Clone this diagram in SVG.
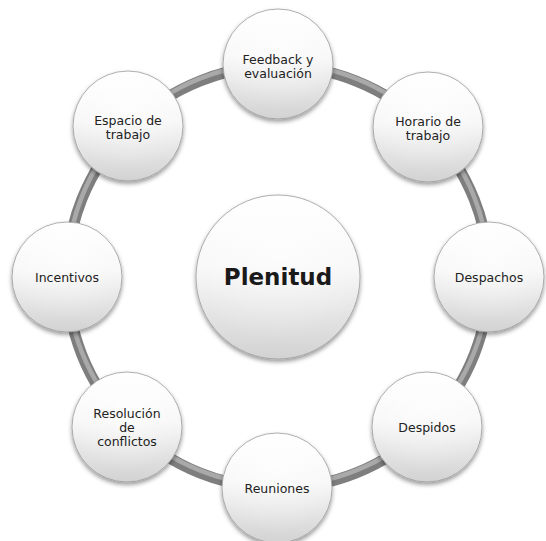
<svg xmlns="http://www.w3.org/2000/svg" width="546" height="541" viewBox="0 0 546 541">
  <defs>
    <linearGradient id="ball" x1="0" y1="0" x2="0" y2="1">
      <stop offset="0" stop-color="#ffffff"/>
      <stop offset="0.45" stop-color="#f7f7f7"/>
      <stop offset="1" stop-color="#d2d2d2"/>
    </linearGradient>
    <radialGradient id="sheen" cx="0.5" cy="0.3" r="0.6">
      <stop offset="0" stop-color="#ffffff" stop-opacity="0.6"/>
      <stop offset="1" stop-color="#ffffff" stop-opacity="0"/>
    </radialGradient>
    <filter id="shadow" x="-20%" y="-20%" width="140%" height="150%">
      <feDropShadow dx="0" dy="2.5" stdDeviation="2" flood-color="#000" flood-opacity="0.4"/>
    </filter>
  </defs>
  <style>
    .node circle.body { fill: url(#ball); stroke: #9a9a9a; stroke-width: 0.8; filter: url(#shadow); }
    .node circle.gloss { fill: url(#sheen); stroke: none; }
    .label { font-family: "DejaVu Sans", Verdana, sans-serif; font-size: 12.5px; fill: #222; text-anchor: middle; }
    .title { font-family: "DejaVu Sans", Verdana, sans-serif; font-size: 23px; font-weight: bold; fill: #1a1a1a; text-anchor: middle; }
    .ring { fill: none; stroke: #7e7e7e; stroke-width: 11; }
    .ring-hi { fill: none; stroke: #a9a9a9; stroke-width: 4.5; }
  </style>
  <rect width="546" height="541" fill="#ffffff"/>

  <!-- tube ring linking the outer nodes -->
  <g id="connectors">
    <circle class="ring" cx="278" cy="277" r="211"/>
    <circle class="ring-hi" cx="278" cy="274.5" r="211"/>
  </g>

  <g id="center" class="node">
    <circle class="body" cx="278" cy="277" r="82"/>
    <circle class="gloss" cx="278" cy="277" r="80"/>
    <text class="title" x="278" y="285">Plenitud</text>
  </g>

  <g id="feedback" class="node">
    <circle class="body" cx="278" cy="64" r="55"/>
    <circle class="gloss" cx="278" cy="64" r="54"/>
    <text class="label" x="278" y="64">Feedback y</text>
    <text class="label" x="278" y="78">evaluación</text>
  </g>

  <g id="horario" class="node">
    <circle class="body" cx="428" cy="127" r="55"/>
    <circle class="gloss" cx="428" cy="127" r="54"/>
    <text class="label" x="428" y="126">Horario de</text>
    <text class="label" x="428" y="140">trabajo</text>
  </g>

  <g id="despachos" class="node">
    <circle class="body" cx="489" cy="277" r="55"/>
    <circle class="gloss" cx="489" cy="277" r="54"/>
    <text class="label" x="489" y="282">Despachos</text>
  </g>

  <g id="despidos" class="node">
    <circle class="body" cx="427" cy="427" r="55"/>
    <circle class="gloss" cx="427" cy="427" r="54"/>
    <text class="label" x="427" y="432">Despidos</text>
  </g>

  <g id="reuniones" class="node">
    <circle class="body" cx="277" cy="488" r="55"/>
    <circle class="gloss" cx="277" cy="488" r="54"/>
    <text class="label" x="277" y="493">Reuniones</text>
  </g>

  <g id="resolucion" class="node">
    <circle class="body" cx="127" cy="427" r="55"/>
    <circle class="gloss" cx="127" cy="427" r="54"/>
    <text class="label" x="127" y="418">Resolución</text>
    <text class="label" x="127" y="432">de</text>
    <text class="label" x="127" y="446">conflictos</text>
  </g>

  <g id="incentivos" class="node">
    <circle class="body" cx="67" cy="277" r="55"/>
    <circle class="gloss" cx="67" cy="277" r="54"/>
    <text class="label" x="67" y="282">Incentivos</text>
  </g>

  <g id="espacio" class="node">
    <circle class="body" cx="128" cy="126" r="55"/>
    <circle class="gloss" cx="128" cy="126" r="54"/>
    <text class="label" x="128" y="125">Espacio de</text>
    <text class="label" x="128" y="139">trabajo</text>
  </g>
</svg>
